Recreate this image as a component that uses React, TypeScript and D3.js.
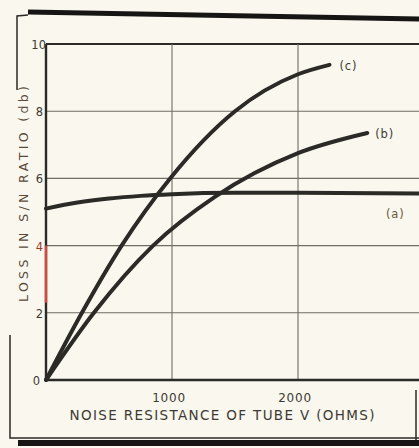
import React from 'react';
import * as d3 from 'd3';

// curve values (x in ohms, y in db)
const resistA = [0, 250, 500, 750, 1000, 1500, 2000, 3000];
const lossA = [5.1, 5.28, 5.4, 5.48, 5.53, 5.57, 5.57, 5.55];

const resistB = [0, 380, 850, 1340, 2000, 2550];
const lossB = [0, 2.0, 4.0, 5.45, 6.75, 7.35];

const resistC = [0, 285, 600, 985, 1500, 2000, 2250];
const lossC = [0, 2.0, 4.0, 6.0, 8.0, 9.1, 9.38];

const xTicks = [1000, 2000, 3000];
const xTickLabels = ['1000', '2000'];
const yTicks = [0, 2, 4, 6, 8, 10];

const curveLabels = ['(a)', '(b)', '(c)'];

const W = 419;
const H = 448;

const App = () => {
  const x = d3.scaleLinear().domain([0, 3000]).range([46, 424]);
  const y = d3.scaleLinear().domain([0, 10]).range([380, 44]);

  const line = d3.line<[number, number]>()
    .x(d => x(d[0]))
    .y(d => y(d[1]))
    .curve(d3.curveMonotoneX);

  const series = [
    { xs: resistA, ys: lossA },
    { xs: resistB, ys: lossB },
    { xs: resistC, ys: lossC },
  ];

  const bg = '#f9f7ee';
  const ink = '#2b2a26';
  const grid = '#706d64';
  const text = '#3d3a33';
  const font = "'DejaVu Sans', sans-serif";

  const ends = series.map(s => [s.xs[s.xs.length - 1], s.ys[s.ys.length - 1]]);

  return (
    <svg width={W} height={H} style={{ position: 'absolute', left: 0, top: 0, background: bg }}>
      <rect x={0} y={0} width={W} height={H} fill={bg} />

      {/* page frame of the scan */}
      <path d="M17,90 L17,16 L28,15" fill="none" stroke={ink} strokeWidth={1.5} />
      <path d="M28,12 L419,19" stroke="#161513" strokeWidth={5} />
      <path d="M10,335 L10,438 L419,438" fill="none" stroke={ink} strokeWidth={1.5} />
      <path d="M18,443 L419,443" stroke="#161513" strokeWidth={6} />
      <path d="M416,390 L416,440" stroke={ink} strokeWidth={1.5} />

      {/* grid */}
      {yTicks.filter(t => t > 0).map(t => (
        <line key={'gy' + t} x1={x(0)} x2={W} y1={y(t)} y2={y(t)}
          stroke={t === 10 ? ink : grid} strokeWidth={t === 10 ? 2.2 : 1.1} />
      ))}
      {xTicks.map(t => (
        <line key={'gx' + t} x1={x(t)} x2={x(t)} y1={y(10)} y2={y(0)} stroke={grid} strokeWidth={1.1} />
      ))}

      {/* axes */}
      <line x1={x(0)} x2={x(0)} y1={y(10)} y2={y(0)} stroke={ink} strokeWidth={2.4} />
      <line x1={x(0)} x2={x(0)} y1={y(4)} y2={y(2.3)} stroke="#d8453a" strokeWidth={2.4} />
      <line x1={x(0)} x2={W} y1={y(0)} y2={y(0)} stroke={ink} strokeWidth={2.4} />

      {/* curves */}
      {series.map((s, i) => (
        <path key={'c' + i}
          d={line(s.xs.map((v, j) => [v, s.ys[j]] as [number, number])) || ''}
          fill="none" stroke={ink} strokeWidth={4} strokeLinecap="round" />
      ))}

      {/* curve labels */}
      <text x={386} y={y(ends[0][1]) + 24} fontFamily={font} fontSize={11.5} fill="#6b5a3a" letterSpacing={0.8}>{curveLabels[0]}</text>
      <text x={x(ends[1][0]) + 8} y={y(ends[1][1]) + 5} fontFamily={font} fontSize={11.5} fill={text} letterSpacing={0.8}>{curveLabels[1]}</text>
      <text x={x(ends[2][0]) + 10} y={y(ends[2][1]) + 5} fontFamily={font} fontSize={11.5} fill={text} letterSpacing={0.8}>{curveLabels[2]}</text>

      {/* y tick labels */}
      {yTicks.map(t => (
        <text key={'ty' + t} x={t === 10 ? 46 : (t === 0 ? 40 : 43)} y={y(t) + 5} textAnchor="end"
          fontFamily={font} fontSize={11.5} fill={t === 4 ? '#9a3a2a' : text}>{t}</text>
      ))}

      {/* x tick labels */}
      {xTickLabels.map((l, i) => (
        <text key={'tx' + l} x={x(xTicks[i]) - 3} y={402} textAnchor="middle"
          fontFamily={font} fontSize={12} fill={text} letterSpacing={0.8}>{l}</text>
      ))}

      <text x={222} y={420} textAnchor="middle" fontFamily={font} fontSize={13.5} fill={text}
        textLength={305} lengthAdjust="spacing">NOISE RESISTANCE OF TUBE V  (OHMS)</text>
      <text transform={`translate(28,194) rotate(-90)`} textAnchor="middle" fontFamily={font} fontSize={12.5}
        fill="#5a4a3a" textLength={216} lengthAdjust="spacing">LOSS IN S/N RATIO (db)</text>
    </svg>
  );
};

export default App;
